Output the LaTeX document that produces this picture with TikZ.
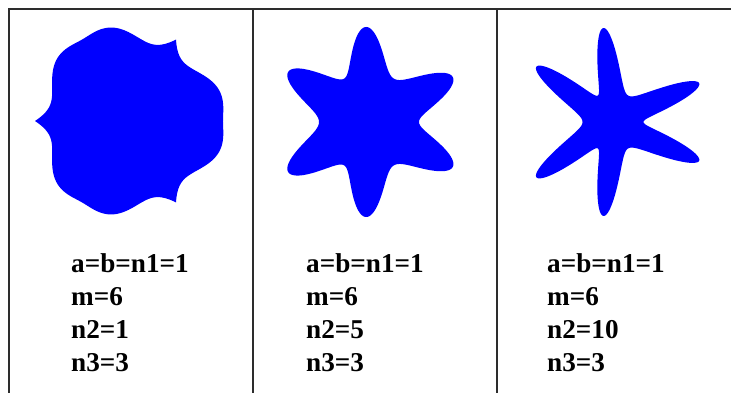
\documentclass[tikz,border=0pt]{standalone}
\usepackage{fontspec}
\setmainfont{Liberation Serif}
\usetikzlibrary{positioning}
\definecolor{shapeblue}{RGB}{0,0,255}
\definecolor{ruleline}{RGB}{45,45,45}

\begin{document}
\begin{tikzpicture}[
    x=1pt, y=1pt,
    declare function={sf(\u,\p,\q)=1/(abs(cos(1.5*\u))^\p+abs(sin(1.5*\u))^\q);},
    blob/.style={fill=shapeblue, draw=none},
    rule/.style={draw=ruleline, line width=1.6pt},
    params/.style={anchor=base west, inner sep=0pt, align=left, font=\fontsize{27.2}{33.3}\selectfont\bfseries}
]
\useasboundingbox (0,0) rectangle (731,393);

% Table frame
\coordinate (topleft) at (9,384);
\coordinate (topright) at (731,384);
\coordinate (sepA) at (253,384);
\coordinate (sepB) at (497,384);
\draw[rule] (topright) -- (topleft) -- (topleft |- 0,0);
\draw[rule] (sepA) -- (sepA |- 0,0);
\draw[rule] (sepB) -- (sepB |- 0,0);

% Superformula shapes, m=6
\fill[blob, shift={(129,272)}] plot[domain=0:360, samples=1441, variable=\ang] (\ang:{94*sf(\ang,1,3)}) -- cycle;
\fill[blob, shift={(369,271)}] plot[domain=0:360, samples=721, smooth, variable=\ang] (\ang:{50*sf(\ang,5,3)}) -- cycle;
\fill[blob, shift={(613,271)}] plot[domain=0:360, samples=1081, smooth, variable=\ang] (\ang:{30.5*sf(\ang,10,3)}) -- cycle;

% Parameters (base = last line)
\node[params] (parA) at (71,21) {a=b=n1=1\\m=6\\n2=1\\n3=3};
\node[params] (parB) at (306,21) {a=b=n1=1\\m=6\\n2=5\\n3=3};
\node[params] (parC) at (547,21) {a=b=n1=1\\m=6\\n2=10\\n3=3};

\end{tikzpicture}
\end{document}
